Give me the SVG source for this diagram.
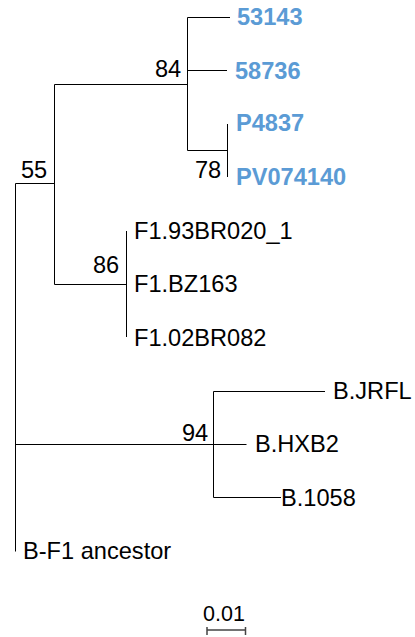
<svg xmlns="http://www.w3.org/2000/svg" width="415" height="637" viewBox="0 0 415 637">
<style>
.t{font-family:"Liberation Sans",Arial,sans-serif;font-size:23.6px;fill:#000}
.b{font-weight:bold;fill:#5B9BD5}
.s{font-family:"Liberation Sans",Arial,sans-serif;font-size:21.5px;fill:#000}
.e{stroke:#000;stroke-width:1;fill:none}
.sc{stroke:#444;stroke-width:1.5;fill:none}
</style>
<rect width="415" height="637" fill="#fff"/>
<g id="connectors">
<path class="e" d="M15.5 183.5V551.5M15.5 183.5H54.5M54.5 84.5V284.5M54.5 84.5H187.5M187.5 17.5V150.5M187.5 17.5H230M187.5 70.5H227M187.5 150.5H227.5M227.5 124V177M54.5 284.5H126.5M126.5 231V337M15.5 444.5H246.5M213.5 391.5V497.5M213.5 391.5H325M213.5 497.5H281"/>
</g>
<g id="n53143"><text class="t b" x="237" y="25">53143</text></g>
<g id="n58736"><text class="t b" x="235" y="79">58736</text></g>
<g id="nP4837"><text class="t b" x="236" y="131">P4837</text></g>
<g id="nPV074140"><text class="t b" x="236" y="185">PV074140</text></g>
<g id="nF1_93BR020_1"><text class="t" x="134" y="239">F1.93BR020_1</text></g>
<g id="nF1_BZ163"><text class="t" x="134" y="292">F1.BZ163</text></g>
<g id="nF1_02BR082"><text class="t" x="134" y="346">F1.02BR082</text></g>
<g id="nB_JRFL"><text class="t" x="333" y="399">B.JRFL</text></g>
<g id="nB_HXB2"><text class="t" x="255" y="452">B.HXB2</text></g>
<g id="nB_1058"><text class="t" x="281" y="506">B.1058</text></g>
<g id="nBF1"><text class="t" x="23" y="559">B-F1 ancestor</text></g>
<g id="bootstrap">
<text class="t" x="155" y="77">84</text>
<text class="t" x="195" y="178">78</text>
<text class="t" x="21" y="178">55</text>
<text class="t" x="93" y="273">86</text>
<text class="t" x="182" y="441">94</text>
</g>
<g id="scale">
<text class="s" x="224" y="621" text-anchor="middle">0.01</text>
<path class="sc" d="M207 630H245.5M207 627V635M245.5 627V635"/>
</g>
</svg>
